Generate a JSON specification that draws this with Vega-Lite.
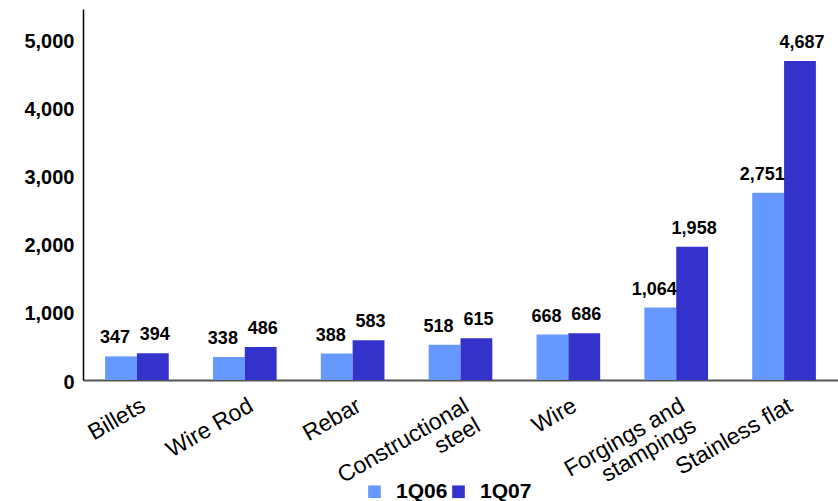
{
  "$schema": "https://vega.github.io/schema/vega-lite/v6.json",
  "width": 755,
  "height": 371,
  "autosize": {"type": "none"},
  "padding": {"left": 83, "top": 9, "right": 0, "bottom": 121},
  "background": "white",
  "config": {
    "font": "Liberation Sans",
    "view": {"stroke": null}
  },
  "data": {
    "values": [
      {"category": "Billets", "series": "1Q06", "value": 347},
      {"category": "Billets", "series": "1Q07", "value": 394},
      {"category": "Wire Rod", "series": "1Q06", "value": 338},
      {"category": "Wire Rod", "series": "1Q07", "value": 486},
      {"category": "Rebar", "series": "1Q06", "value": 388},
      {"category": "Rebar", "series": "1Q07", "value": 583},
      {"category": "Constructional|steel", "series": "1Q06", "value": 518},
      {"category": "Constructional|steel", "series": "1Q07", "value": 615},
      {"category": "Wire", "series": "1Q06", "value": 668},
      {"category": "Wire", "series": "1Q07", "value": 686},
      {"category": "Forgings and|stampings", "series": "1Q06", "value": 1064},
      {"category": "Forgings and|stampings", "series": "1Q07", "value": 1958},
      {"category": "Stainless flat", "series": "1Q06", "value": 2751},
      {"category": "Stainless flat", "series": "1Q07", "value": 4687}
    ]
  },
  "encoding": {
    "x": {
      "field": "category",
      "type": "nominal",
      "sort": null,
      "scale": {"paddingInner": 0.41, "paddingOuter": 0.205},
      "axis": {
        "title": null,
        "labelAngle": -30,
        "labelAlign": "right",
        "labelBaseline": "top",
        "labelFontSize": 23,
        "labelColor": "black",
        "labelPadding": 14,
        "labelOffset": 1,
        "labelLineHeight": 23,
        "ticks": false,
        "domainColor": "#555555",
        "domainWidth": 2,
        "labelExpr": "split(datum.label, '|')"
      }
    },
    "xOffset": {"field": "series", "type": "nominal", "scale": {"paddingInner": 0, "paddingOuter": 0}},
    "y": {
      "field": "value",
      "type": "quantitative",
      "scale": {"domain": [0, 5450], "nice": false},
      "axis": {
        "title": null,
        "values": [0, 1000, 2000, 3000, 4000, 5000],
        "format": ",.0f",
        "grid": false,
        "ticks": false,
        "labelFontSize": 20,
        "labelFontWeight": "bold",
        "labelColor": "black",
        "labelPadding": 9,
        "labelOffset": 2,
        "domainColor": "black",
        "domainWidth": 1.5
      }
    }
  },
  "layer": [
    {
      "mark": {"type": "bar"},
      "encoding": {
        "color": {
          "field": "series",
          "type": "nominal",
          "scale": {"domain": ["1Q06", "1Q07"], "range": ["#6699FF", "#3333CC"]},
          "legend": {
            "title": null,
            "orient": "none",
            "legendX": 281,
            "legendY": 472,
            "direction": "horizontal",
            "symbolType": "square",
            "symbolSize": 160,
            "symbolStrokeWidth": 0,
            "labelFontSize": 21,
            "labelFontWeight": "bold",
            "labelColor": "black",
            "labelOffset": 11,
            "columnPadding": -10
          }
        }
      }
    },
    {
      "transform": [{"filter": "datum.series === '1Q06'"}],
      "mark": {"type": "text", "dy": -13, "dx": -6, "baseline": "alphabetic", "fontSize": 18, "fontWeight": "bold", "color": "black"},
      "encoding": {
        "text": {"field": "value", "type": "quantitative", "format": ",.0f"}
      }
    },
    {
      "transform": [{"filter": "datum.series === '1Q07'"}],
      "mark": {"type": "text", "dy": -13, "dx": 2, "baseline": "alphabetic", "fontSize": 18, "fontWeight": "bold", "color": "black"},
      "encoding": {
        "text": {"field": "value", "type": "quantitative", "format": ",.0f"}
      }
    }
  ]
}
